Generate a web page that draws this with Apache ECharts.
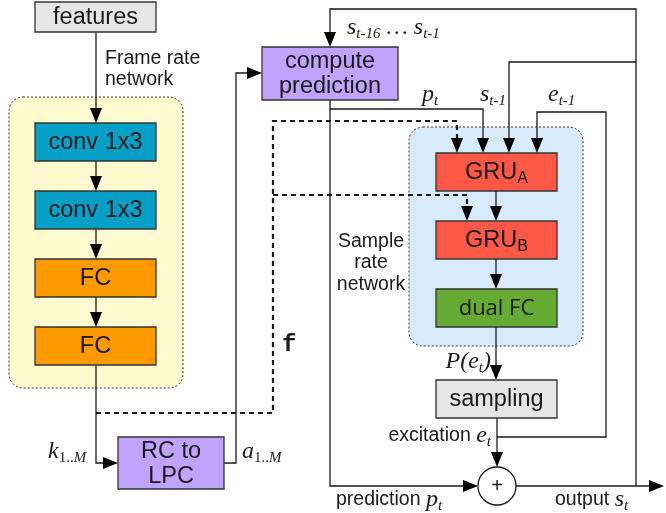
<!DOCTYPE html>
<html><head><meta charset="utf-8">
<script src="https://cdn.jsdelivr.net/npm/echarts@6/dist/echarts.min.js"></script>
<style>html,body{margin:0;padding:0;background:#fff}#c{width:666px;height:513px}</style>
</head><body><div id="c"></div>
<script>
// ---- data ----
const regionX0 = [9, 409];
const regionY0 = [97, 127];
const regionX1 = [183, 583];
const regionY1 = [388, 346];

const boxLabels = ['features', 'conv 1x3', 'conv 1x3', 'FC', 'FC', 'RC to\nLPC', 'compute\nprediction',
  '{b|GRU}{bs|A}', '{b|GRU}{bs|B}', 'dual FC', 'sampling'];
const boxX0 = [35, 35, 35, 35, 35, 118, 262, 436, 436, 436, 436];
const boxY0 = [2, 123, 191, 259, 327, 437, 47, 153, 221, 289, 380];
const boxX1 = [156, 156, 156, 156, 156, 224, 398, 557, 557, 557, 557];
const boxY1 = [32, 161, 229, 297, 365, 489, 100, 191, 259, 327, 418];
const boxKind = ['in', 'conv', 'conv', 'fc', 'fc', 'lpc', 'lpc', 'gru', 'gru', 'dual', 'in'];

const edgePaths = [
  [[96, 32], [96, 123]],
  [[96, 161], [96, 191]],
  [[96, 229], [96, 259]],
  [[96, 297], [96, 327]],
  [[96, 365], [96, 463], [118, 463]],
  [[224, 463], [236, 463], [236, 73], [262, 73]],
  [[96, 413], [273, 413], [273, 121], [457, 121], [457, 153]],
  [[273, 195], [467, 195], [467, 221]],
  [[330, 100], [330, 486], [478, 486]],
  [[330, 109], [483, 109], [483, 153]],
  [[636, 486], [636, 9], [330, 9], [330, 47]],
  [[636, 62], [509, 62], [509, 153]],
  [[497, 418], [497, 467]],
  [[497, 437], [606, 437], [606, 112], [537, 112], [537, 153]],
  [[496, 191], [496, 221]],
  [[496, 259], [496, 289]],
  [[496, 327], [496, 380]],
  [[516, 486], [664, 486]]
];
const edgeDashed = [false, false, false, false, false, false, true, true, false, false, false, false, false, false, false, false, false, false];

const sumX = [497];
const sumY = [486];

const labelTexts = [
  '{s|Frame rate}\n{s|network}',
  '{s|Sample}\n{s|rate}\n{s|network}',
  '{m|s}{sub|t-16}{m| … s}{sub|t-1}',
  '{m|p}{sub|t}',
  '{m|s}{sub|t-1}',
  '{m|e}{sub|t-1}',
  '{m|k}{subr|1..}{sub|M}',
  '{m|a}{subr|1..}{sub|M}',
  '{f|f}',
  '{m|P(e}{sub|t}{m|)}',
  '{s|excitation }{m|e}{sub|t}',
  '{s|prediction }{m|p}{sub|t}',
  '{s|output }{m|s}{sub|t}'
];
const labelX = [105, 371, 347, 422, 480, 548, 48, 242, 282, 491, 491, 336, 555];
const labelY = [69, 263, 28, 95, 95, 95, 452, 452, 345, 362, 436, 500, 500];
const labelAlign = ['left', 'center', 'left', 'left', 'left', 'left', 'left', 'left', 'left', 'right', 'right', 'left', 'left'];

// ---- styles ----
const fills = { in: '#e6e6e6', conv: '#079fc6', fc: '#ff9900', lpc: '#bfa3fd', gru: '#fd5745', dual: '#65aa32' };
const ink = '#1a1a1a';
const richStyles = {
  s: { fontFamily: 'Liberation Sans', fontSize: 19.5, color: ink, lineHeight: 21.5 },
  m: { fontFamily: 'Liberation Serif', fontStyle: 'italic', fontSize: 24, color: ink, lineHeight: 28, verticalAlign: 'middle' },
  sub: { fontFamily: 'Liberation Serif', fontStyle: 'italic', fontSize: 15, color: ink, lineHeight: 14, verticalAlign: 'bottom' },
  subr: { fontFamily: 'Liberation Serif', fontSize: 15, color: ink, lineHeight: 14, verticalAlign: 'bottom' },
  f: { fontFamily: 'Liberation Mono', fontWeight: 'bold', fontSize: 24, color: ink },
  b: { fontFamily: 'Liberation Sans', fontSize: 23.5, color: ink, lineHeight: 28, verticalAlign: 'middle' },
  bs: { fontFamily: 'Liberation Sans', fontSize: 16, color: ink, lineHeight: 15, verticalAlign: 'bottom' }
};

const chart = echarts.init(document.getElementById('c'), null, { renderer: 'canvas' });

function regionRender(params, api) {
  const a = api.coord([api.value(0), api.value(1)]);
  const b = api.coord([api.value(2), api.value(3)]);
  return {
    type: 'rect',
    shape: { x: a[0], y: a[1], width: b[0] - a[0], height: b[1] - a[1], r: 14 },
    style: { fill: params.dataIndex === 0 ? '#fff9cf' : '#d8ebfc', stroke: '#333', lineWidth: 1, lineDash: [2, 2] }
  };
}

function edgeRender(params, api) {
  const i = params.dataIndex;
  const pts = edgePaths[i].map(p => api.coord(p));
  const n = pts.length;
  const tip = pts[n - 1], prev = pts[n - 2];
  let dx = tip[0] - prev[0], dy = tip[1] - prev[1];
  const len = Math.hypot(dx, dy); dx /= len; dy /= len;
  const L = 15, W = 6;
  const base = [tip[0] - dx * L, tip[1] - dy * L];
  const linePts = pts.slice(0, n - 1).concat([base]);
  const dashed = edgeDashed[i];
  return {
    type: 'group',
    children: [
      { type: 'polyline', shape: { points: linePts },
        style: { stroke: ink, fill: null, lineWidth: dashed ? 2.2 : 1.3, lineDash: dashed ? [5, 4] : null } },
      { type: 'polygon', shape: { points: [tip, [base[0] - dy * W, base[1] + dx * W], [base[0] + dy * W, base[1] - dx * W]] },
        style: { fill: '#000' } }
    ]
  };
}

function boxRender(params, api) {
  const i = params.dataIndex;
  const a = api.coord([api.value(0), api.value(1)]);
  const b = api.coord([api.value(2), api.value(3)]);
  const isRich = boxLabels[i].indexOf('{') === 0;
  return {
    type: 'group',
    children: [
      { type: 'rect', shape: { x: a[0], y: a[1], width: b[0] - a[0], height: b[1] - a[1] },
        style: { fill: fills[boxKind[i]], stroke: '#333', lineWidth: 1.3 } },
      { type: 'text', x: (a[0] + b[0]) / 2, y: (a[1] + b[1]) / 2 + 1,
        style: { text: boxLabels[i], align: 'center', verticalAlign: 'middle',
          fontFamily: boxKind[i] === 'dual' ? 'Open Sans' : 'Liberation Sans', fontSize: boxKind[i] === 'dual' ? 22 : 23.5, lineHeight: 25,
          fill: ink, rich: isRich ? richStyles : undefined } }
    ]
  };
}

function sumRender(params, api) {
  const c = api.coord([api.value(0), api.value(1)]);
  const r = api.size([19, 19]);
  return {
    type: 'group',
    children: [
      { type: 'circle', shape: { cx: c[0], cy: c[1], r: r[0] }, style: { fill: '#fff', stroke: ink, lineWidth: 1.3 } },
      { type: 'text', x: c[0], y: c[1], style: { text: '+', align: 'center', verticalAlign: 'middle', fontFamily: 'Liberation Sans', fontSize: 20, fill: ink } }
    ]
  };
}

function labelRender(params, api) {
  const i = params.dataIndex;
  const p = api.coord([api.value(0), api.value(1)]);
  return {
    type: 'text', x: p[0], y: p[1],
    style: { text: labelTexts[i], align: labelAlign[i], verticalAlign: 'middle', rich: richStyles, fill: ink }
  };
}

chart.setOption({
  animation: false,
  grid: { left: 0, right: 0, top: 0, bottom: 0 },
  xAxis: { type: 'value', min: 0, max: 666, show: false },
  yAxis: { type: 'value', min: 0, max: 513, inverse: true, show: false },
  series: [
    { type: 'custom', renderItem: regionRender, data: regionX0.map((x, i) => [x, regionY0[i], regionX1[i], regionY1[i]]), encode: { x: [0, 2], y: [1, 3] }, silent: true },
    { type: 'custom', renderItem: edgeRender, data: edgePaths.map(p => [p[0][0], p[0][1]]), encode: { x: 0, y: 1 }, silent: true },
    { type: 'custom', renderItem: boxRender, data: boxX0.map((x, i) => [x, boxY0[i], boxX1[i], boxY1[i]]), encode: { x: [0, 2], y: [1, 3] }, silent: true },
    { type: 'custom', renderItem: sumRender, data: sumX.map((x, i) => [x, sumY[i]]), encode: { x: 0, y: 1 }, silent: true },
    { type: 'custom', renderItem: labelRender, data: labelX.map((x, i) => [x, labelY[i]]), encode: { x: 0, y: 1 }, silent: true }
  ]
});
</script></body></html>
